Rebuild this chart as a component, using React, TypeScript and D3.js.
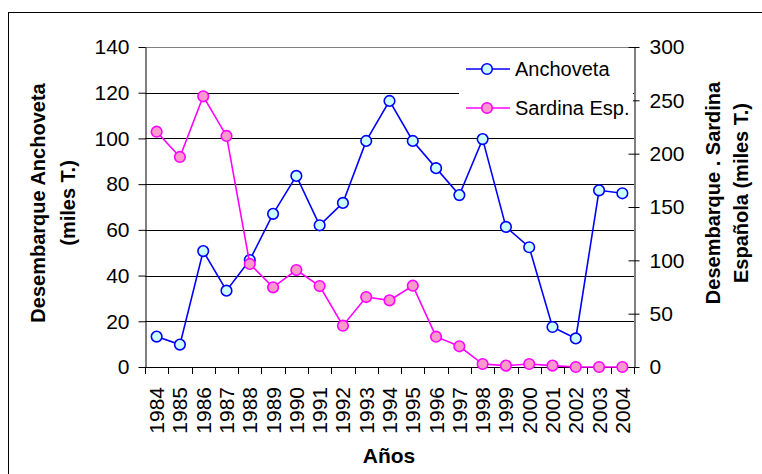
import React, { useRef, useEffect } from 'react';
import * as d3 from 'd3';

const years = ['1984', '1985', '1986', '1987', '1988', '1989', '1990', '1991', '1992', '1993', '1994',
  '1995', '1996', '1997', '1998', '1999', '2000', '2001', '2002', '2003', '2004'];
const anchoveta = [13.3, 9.8, 50.7, 33.4, 46.8, 67, 83.6, 62, 71.8, 98.9, 116.4,
  98.9, 87, 75.2, 99.7, 61.3, 52.4, 17.5, 12.5, 77.3, 76];
const sardina = [220.6, 196.9, 253.8, 216.6, 96.6, 74.7, 90.9, 75.9, 38.7, 65.6, 62.5,
  76.2, 28.4, 19.4, 2.8, 1.3, 2.8, 1.3, 0, 0, 0];
const leftTicks = [0, 20, 40, 60, 80, 100, 120, 140];
const rightTicks = [0, 50, 100, 150, 200, 250, 300];

const FONT = '"Liberation Sans", Arial, sans-serif';

const App: React.FC = () => {
  const svgRef = useRef<SVGSVGElement>(null);

  useEffect(() => {
    if (!svgRef.current) return;
    const svg = d3.select(svgRef.current);
    svg.selectAll('*').remove();

    const left = 145, right = 634, top = 47, bottom = 367;

    const x = d3.scaleBand().domain(years).range([left, right]).paddingInner(0).paddingOuter(0);
    const yL = d3.scaleLinear().domain([0, 140]).range([bottom, top]);
    const yR = d3.scaleLinear().domain([0, 300]).range([bottom, top]);
    const cx = (d: string) => x(d)! + x.bandwidth() / 2;

    // outer frame
    svg.append('rect')
      .attr('x', 8.5).attr('y', 12.5).attr('width', 800).attr('height', 500)
      .attr('fill', 'white').attr('stroke', 'black');

    // gridlines
    svg.append('g').selectAll('line')
      .data(leftTicks.filter(t => t > 0 && t < 140))
      .enter().append('line')
      .attr('x1', left).attr('x2', right)
      .attr('y1', d => Math.round(yL(d)) + 0.5).attr('y2', d => Math.round(yL(d)) + 0.5)
      .attr('stroke', 'black').attr('stroke-width', 1);

    // plot top border
    svg.append('line')
      .attr('x1', left).attr('x2', right).attr('y1', top + 0.5).attr('y2', top + 0.5)
      .attr('stroke', '#808080');

    // left axis
    const gl = svg.append('g').attr('transform', `translate(${left + 0.5},0)`);
    gl.call(d3.axisLeft(yL).tickValues(leftTicks).tickSize(7).tickPadding(9).tickSizeOuter(0));
    gl.select('.domain').attr('stroke', 'black');
    gl.selectAll('text').attr('font-size', 21).attr('font-family', FONT).attr('fill', 'black');

    // right axis
    const gr = svg.append('g').attr('transform', `translate(${right + 0.5},0)`);
    gr.call(d3.axisRight(yR).tickValues(rightTicks).tickSize(5).tickPadding(10).tickSizeOuter(0));
    gr.selectAll('.tick line').attr('x1', -6);
    gr.select('.domain').attr('stroke', 'black');
    gr.selectAll('text').attr('font-size', 21).attr('font-family', FONT).attr('fill', 'black');

    // bottom axis
    svg.append('line')
      .attr('x1', left).attr('x2', right + 1).attr('y1', bottom + 0.5).attr('y2', bottom + 0.5)
      .attr('stroke', 'black');
    const bounds = years.map(d => x(d)!).concat([right]);
    svg.append('g').selectAll('line').data(bounds).enter().append('line')
      .attr('x1', d => Math.round(d) + 0.5).attr('x2', d => Math.round(d) + 0.5)
      .attr('y1', bottom).attr('y2', bottom + 7)
      .attr('stroke', 'black');
    svg.append('g').selectAll('text').data(years).enter().append('text')
      .attr('transform', d => `translate(${cx(d)},${bottom + 20}) rotate(-90)`)
      .attr('text-anchor', 'end').attr('dy', '0.36em')
      .attr('font-size', 21).attr('font-family', FONT).attr('fill', 'black')
      .text(d => d);

    // series
    const lineA = d3.line<number>().x((_, i) => cx(years[i])).y(d => yL(d));
    const lineS = d3.line<number>().x((_, i) => cx(years[i])).y(d => yR(d));

    svg.append('path').datum(anchoveta).attr('d', lineA)
      .attr('fill', 'none').attr('stroke', '#0000FF').attr('stroke-width', 1.6);
    svg.append('g').selectAll('circle').data(anchoveta).enter().append('circle')
      .attr('cx', (_, i) => cx(years[i])).attr('cy', d => yL(d)).attr('r', 5.3)
      .attr('fill', '#CCFFFF').attr('stroke', '#0000FF').attr('stroke-width', 1.6);

    svg.append('path').datum(sardina).attr('d', lineS)
      .attr('fill', 'none').attr('stroke', '#FF00FF').attr('stroke-width', 1.6);
    svg.append('g').selectAll('circle').data(sardina).enter().append('circle')
      .attr('cx', (_, i) => cx(years[i])).attr('cy', d => yR(d)).attr('r', 5.3)
      .attr('fill', '#FF99CC').attr('stroke', '#FF00FF').attr('stroke-width', 1.6);

    // legend
    const lg = svg.append('g');
    lg.append('rect').attr('x', 459).attr('y', 52).attr('width', 174).attr('height', 76).attr('fill', 'white');
    const items = [
      { name: 'Anchoveta', stroke: '#0000FF', fill: '#CCFFFF', y: 69 },
      { name: 'Sardina Esp.', stroke: '#FF00FF', fill: '#FF99CC', y: 108 },
    ];
    items.forEach(it => {
      lg.append('line').attr('x1', 466).attr('x2', 510).attr('y1', it.y).attr('y2', it.y)
        .attr('stroke', it.stroke).attr('stroke-width', 1.6);
      lg.append('circle').attr('cx', 487).attr('cy', it.y).attr('r', 5.3)
        .attr('fill', it.fill).attr('stroke', it.stroke).attr('stroke-width', 1.6);
      lg.append('text').attr('x', 515).attr('y', it.y + 7)
        .attr('font-size', 20).attr('font-family', FONT).attr('fill', 'black')
        .text(it.name);
    });

    // axis titles
    const title = (tx: number, ty: number, s: string) =>
      svg.append('text')
        .attr('transform', `translate(${tx},${ty}) rotate(-90)`)
        .attr('text-anchor', 'middle').attr('font-size', 20).attr('font-weight', 'bold')
        .attr('font-family', FONT).attr('fill', 'black').text(s);
    title(44.5, 203, 'Desembarque Anchoveta');
    title(74.5, 203, '(miles T.)');
    title(719.5, 193, 'Desembarque . Sardina');
    title(748, 193, 'Española (miles T.)');

    svg.append('text')
      .attr('x', 389).attr('y', 463).attr('text-anchor', 'middle')
      .attr('font-size', 21).attr('font-weight', 'bold').attr('font-family', FONT).attr('fill', 'black')
      .text('Años');
  }, []);

  return (
    <svg ref={svgRef} width={762} height={474}
      style={{ position: 'absolute', left: 0, top: 0, background: 'white' }} />
  );
};

export default App;
